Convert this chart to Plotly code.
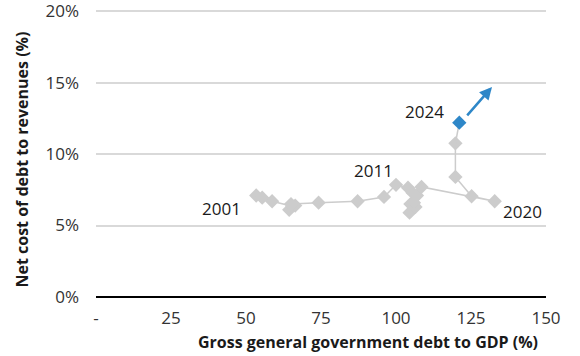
import plotly.graph_objects as go

years = list(range(2001, 2025))
debt_to_gdp = [53.4, 55.4, 58.7, 65.4, 64.4, 66.4, 65.0, 74.2, 87.2, 96.0,
               100.0, 104.0, 105.5, 104.8, 104.5, 106.5, 106.0, 107.0, 108.5,
               132.9, 125.2, 119.8, 119.8, 121.1]
net_cost_pct = [7.1, 6.95, 6.7, 6.35, 6.1, 6.4, 6.5, 6.6, 6.7, 7.0,
                7.85, 7.65, 7.3, 6.5, 5.9, 6.3, 6.6, 7.1, 7.7,
                6.7, 7.05, 8.4, 10.75, 12.2]
x_ticks = [0, 25, 50, 75, 100, 125, 150]
x_tick_text = ["-", "25", "50", "75", "100", "125", "150"]
y_ticks = [0, 5, 10, 15, 20]
y_tick_text = ["0%", "5%", "10%", "15%", "20%"]
# label: (xanchor, xshift px, yshift px)
labelled_years = {2001: ("right", -13, -13), 2011: ("center", -23, 14),
                  2020: ("left", 6, -10), 2024: ("right", -13, 11)}
arrow_tip = (132.0, 14.7)

FONT = "Open Sans"
GREY = "#cccccc"
BLUE = "#2e87c8"

fig = go.Figure()
fig.add_trace(go.Scatter(
    x=debt_to_gdp[:-1], y=net_cost_pct[:-1], mode="lines+markers",
    line=dict(color=GREY, width=1.5),
    marker=dict(symbol="diamond", size=11, color=GREY),
    hoverinfo="skip", showlegend=False))
fig.add_trace(go.Scatter(
    x=debt_to_gdp[-2:], y=net_cost_pct[-2:], mode="lines",
    line=dict(color=GREY, width=1.5), hoverinfo="skip", showlegend=False))
fig.add_trace(go.Scatter(
    x=[debt_to_gdp[-1]], y=[net_cost_pct[-1]], mode="markers",
    marker=dict(symbol="diamond", size=11, color=BLUE),
    hoverinfo="skip", showlegend=False))

for yr, (anchor, dx, dy) in labelled_years.items():
    i = years.index(yr)
    fig.add_annotation(x=debt_to_gdp[i], y=net_cost_pct[i], text=str(yr),
                       showarrow=False, xanchor=anchor, yanchor="middle",
                       xshift=dx, yshift=dy,
                       font=dict(family=FONT, size=17, color="#1a1a1a"))

# Arrow from 2024 point
fig.add_annotation(x=arrow_tip[0], y=arrow_tip[1], ax=debt_to_gdp[-1] + 2.2,
                   ay=net_cost_pct[-1] + 0.4, xref="x", yref="y", axref="x", ayref="y",
                   showarrow=True, arrowhead=2, arrowsize=1.0, arrowwidth=2.5,
                   arrowcolor=BLUE, text="")

fig.add_annotation(text="<b>Gross general government debt to GDP (%)</b>",
                   xref="paper", yref="paper", x=0.605, y=-0.156, xanchor="center",
                   yanchor="middle", showarrow=False,
                   font=dict(family=FONT, size=16, color="#1a1a1a"))
fig.add_annotation(text="<b>Net cost of debt to revenues (%)</b>",
                   xref="paper", yref="paper", x=-0.164, y=0.478, xanchor="center",
                   yanchor="middle", textangle=-90, showarrow=False,
                   font=dict(family=FONT, size=16, color="#1a1a1a"))

fig.update_xaxes(range=[0, 150], tickvals=x_ticks, ticktext=x_tick_text,
                 showgrid=False, zeroline=False, showline=False, ticks="",
                 automargin=False, ticklabelstandoff=9, ticklabeloverflow="allow",
                 tickfont=dict(family=FONT, size=17, color="#333333"))
fig.update_yaxes(range=[0, 20.15], tickvals=y_ticks, ticktext=y_tick_text,
                 showgrid=True, gridcolor="#d9d9d9", gridwidth=1.5,
                 zeroline=True, zerolinecolor="#000000", zerolinewidth=1.5,
                 showline=False, ticks="", ticklabelstandoff=16, automargin=False,
                 ticklabeloverflow="allow",
                 tickfont=dict(family=FONT, size=17, color="#333333"))
fig.update_layout(width=580, height=356, plot_bgcolor="white", paper_bgcolor="white",
                  margin=dict(l=96, r=34, t=9, b=59, pad=0),
                  font=dict(family=FONT), showlegend=False)
fig.write_html("out.html", config={"displayModeBar": False},
               post_script="document.body.style.margin='0';document.body.style.overflow='hidden';")
